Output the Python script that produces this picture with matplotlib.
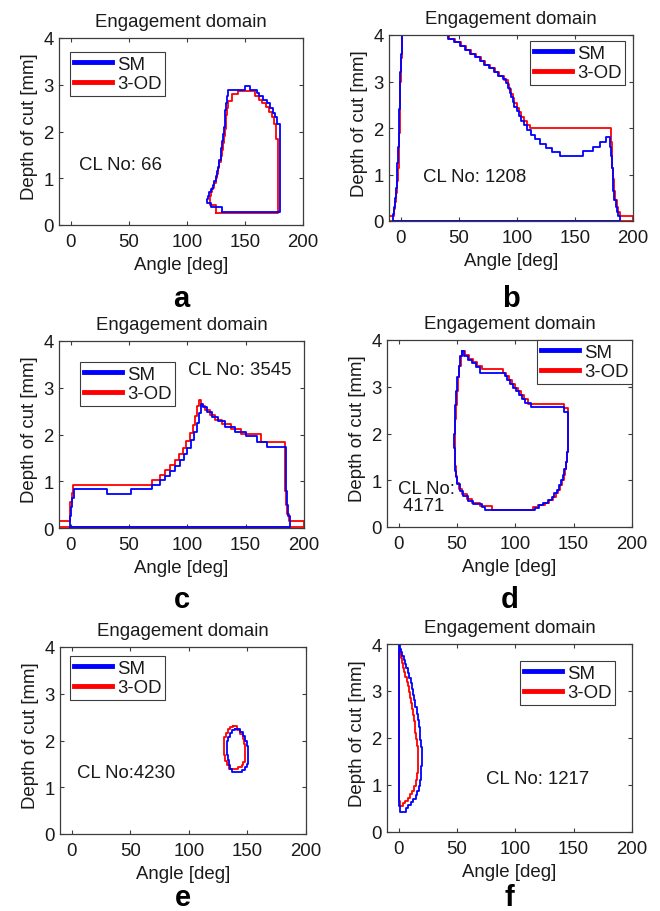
import matplotlib
matplotlib.use("Agg")
import matplotlib.pyplot as plt
from matplotlib.lines import Line2D

plt.rcParams['font.family'] = ['Liberation Sans', 'DejaVu Sans']

FS = 13.4
INK = '#1a1a1a'
FRAME = '#3c3c3c'
SM_BLUE = '#0000ff'
OD_RED = '#ff0000'

series_names = ['SM', '3-OD']
x_ticks = [0, 50, 100, 150, 200]
y_ticks = [0, 1, 2, 3, 4]
panel_tags = ['a', 'b', 'c', 'd', 'e', 'f']
cl_notes = ['CL No: 66', 'CL No: 1208', 'CL No: 3545', 'CL No:\n 4171',
            'CL No:4230', 'CL No: 1217']

# Engagement boundaries as (angle [deg], depth of cut [mm]) step vertices.
# Each vertex holds its depth until the next angle (steps-post).
a_sm = [(130.5, 0.27), (180, 2.15), (178, 2.3), (176, 2.4), (174, 2.5), (172, 2.6),
        (169, 2.68), (166, 2.76), (162, 2.83), (160, 2.89), (154, 2.97), (150, 2.89),
        (135.5, 2.75), (134.5, 2.6), (133.5, 2.45), (133, 2.3), (132.5, 2.1), (132, 1.95),
        (131.3, 1.8), (130.6, 1.65), (129.8, 1.5), (129, 1.38), (128, 1.25), (127, 1.15),
        (126, 1.05), (125, 0.95), (123.7, 0.85), (122.3, 0.77), (120.8, 0.7),
        (119.5, 0.62), (118.3, 0.55), (117.5, 0.47), (121, 0.38), (130.5, 0.27)]
a_od = [(125.5, 0.25), (178.7, 1.85), (177, 2.15), (175, 2.3), (173, 2.42), (171, 2.52),
        (168.5, 2.6), (165, 2.68), (162, 2.75), (159, 2.86), (144, 2.8), (138.5, 2.65),
        (135.5, 2.5), (134.5, 2.35), (134, 2.2), (133.5, 2.05), (132.8, 1.9), (132, 1.75),
        (131, 1.6), (130, 1.47), (129, 1.35), (128, 1.22), (127, 1.1), (126, 1.0),
        (125, 0.9), (123.5, 0.8), (122, 0.7), (121, 0.62), (120, 0.43), (125.5, 0.36),
        (125.5, 0.25)]

b_sm = [(-6.3, 0.0), (188.5, 0.1), (187, 0.2), (186, 0.3), (185, 0.45), (184, 0.65),
        (183.2, 0.9), (182.5, 1.15), (181.8, 1.4), (181, 1.6), (180, 1.8), (177, 1.7),
        (172, 1.6), (166, 1.5), (157, 1.4), (137, 1.48), (130, 1.56), (125, 1.66),
        (120, 1.76), (116, 1.86), (112, 1.96), (109, 2.06), (106, 2.16), (104, 2.26),
        (102, 2.36), (100, 2.46), (98, 2.56), (96.5, 2.66), (95, 2.76), (94, 2.86),
        (92.5, 2.96), (91, 3.06), (88, 3.12), (84, 3.2), (80, 3.28), (76, 3.36),
        (72, 3.44), (68, 3.52), (64, 3.6), (60, 3.68), (55, 3.76), (51, 3.84),
        (46, 3.92), (41, 4.0), (0.8, 3.6), (0.3, 3.2), (-0.2, 2.8), (-0.6, 2.4),
        (-1, 2.0), (-1.5, 1.6), (-2, 1.25), (-2.7, 0.95), (-3.4, 0.7), (-4, 0.5),
        (-4.7, 0.3), (-5.5, 0.15), (-6.3, 0.0)]
b_od = [(-10, 0.0), (-10, 0.1), (-5.5, 0.25), (-4.8, 0.4), (-4, 0.6), (-3.2, 0.85),
        (-2.5, 1.15), (-1.8, 1.5), (-1.2, 1.9), (-0.7, 2.4), (-0.2, 3.0), (0.3, 3.5),
        (0.8, 4.0), (42, 3.92), (47, 3.84), (52, 3.76), (56, 3.68), (61, 3.6),
        (65, 3.52), (69, 3.44), (73, 3.36), (77, 3.28), (81, 3.2), (85, 3.12),
        (89, 3.04), (92, 2.94), (93.5, 2.84), (95, 2.74), (96.5, 2.64), (98, 2.54),
        (100, 2.44), (102, 2.34), (104, 2.24), (106.5, 2.14), (109, 2.06), (111, 2.0),
        (181, 1.7), (181.5, 1.4), (182, 1.15), (182.8, 0.9), (183.8, 0.65),
        (184.8, 0.45), (186, 0.3), (187.5, 0.2), (189, 0.1), (200, 0.0), (-10, 0.0)]

c_sm = [(-0.6, 0.03), (-0.2, 0.25), (0.5, 0.45), (1.3, 0.65), (2.5, 0.84), (31.4, 0.73),
        (51.7, 0.84), (69.4, 0.93), (76.5, 1.02), (81, 1.12), (85, 1.22), (89.5, 1.33),
        (93.5, 1.45), (97, 1.58), (100, 1.72), (103, 1.88), (106, 2.05), (108, 2.25),
        (110, 2.45), (111.5, 2.65), (113.5, 2.58), (117, 2.48), (121, 2.38), (126, 2.28),
        (132, 2.17), (141, 2.06), (150, 1.96), (160, 1.85), (168, 1.74), (184.3, 1.2),
        (184.8, 0.8), (185.5, 0.5), (186.5, 0.25), (188, 0.03), (-0.6, 0.03)]
c_od = [(-10, 0.03), (-10, 0.14), (-1, 0.3), (-0.2, 0.55), (0.8, 0.75), (2.3, 0.93),
        (69.4, 1.03), (76.5, 1.13), (81, 1.24), (85, 1.35), (89, 1.46), (92.5, 1.58),
        (96, 1.72), (99, 1.87), (102, 2.03), (104.5, 2.2), (106.5, 2.4), (108.5, 2.6),
        (110, 2.74), (112, 2.62), (115, 2.52), (119, 2.42), (124, 2.32), (130, 2.22),
        (137, 2.12), (146, 2.02), (163, 1.85), (183.5, 1.2), (184, 0.8), (184.7, 0.5),
        (185.7, 0.3), (187.5, 0.14), (200, 0.03), (-10, 0.03)]

d_sm = [(54, 3.76), (56, 3.66), (59, 3.58), (62.5, 3.5), (66, 3.42), (70, 3.3),
        (91, 3.22), (93, 3.14), (95.5, 3.06), (98, 2.98), (100.5, 2.9), (103, 2.82),
        (105.5, 2.74), (108, 2.66), (113, 2.57), (141.5, 2.47), (145.3, 1.9),
        (145, 1.6), (144.2, 1.4), (143.2, 1.25), (142, 1.12), (140.5, 1.0), (139, 0.9),
        (137.5, 0.8), (135.5, 0.72), (133.5, 0.64), (131, 0.57), (128, 0.51),
        (124, 0.46), (120, 0.41), (116.8, 0.37), (74, 0.43), (71, 0.49), (64, 0.56),
        (59.6, 0.67), (55.3, 0.78), (52.4, 0.92), (50.2, 1.06), (49.2, 1.2),
        (48.5, 1.4), (48, 1.7), (47.8, 2.0), (48, 2.3), (48.5, 2.6), (49.3, 2.9),
        (50.3, 3.2), (51.5, 3.45), (52.8, 3.65), (54, 3.76)]
d_od = [(54.5, 3.76), (57, 3.68), (60, 3.6), (63.5, 3.52), (67, 3.44), (71, 3.38),
        (89.5, 3.3), (92, 3.22), (94.5, 3.14), (97, 3.06), (99.5, 2.98), (102, 2.9),
        (104.5, 2.82), (107, 2.74), (111, 2.64), (142, 2.55), (144.8, 2.0), (145, 1.6),
        (144.5, 1.4), (143.8, 1.25), (142.8, 1.12), (141.5, 1.0), (140, 0.9),
        (138.5, 0.8), (136.5, 0.72), (134.5, 0.64), (132, 0.57), (129, 0.51),
        (125, 0.46), (119, 0.43), (115.5, 0.37), (80, 0.45), (70, 0.52), (63, 0.6),
        (58.5, 0.7), (54.5, 0.82), (51.5, 0.95), (50, 1.1), (49.2, 1.3), (48.6, 1.6),
        (48.3, 2.0), (48.5, 2.3), (49, 2.6), (49.8, 2.9), (50.8, 3.2), (52, 3.45),
        (53.3, 3.65), (54.5, 3.76)]

e_sm = [(139.5, 2.25), (143.7, 2.18), (146, 2.1), (148, 2.0), (149.5, 1.88),
        (150.8, 1.72), (150.8, 1.6), (150.2, 1.5), (149.3, 1.43), (148, 1.37),
        (145.3, 1.32), (136.7, 1.4), (135, 1.48), (134, 1.58), (133, 1.7),
        (132.4, 1.85), (132.8, 1.98), (133.8, 2.08), (135.2, 2.16), (137.2, 2.22),
        (139.5, 2.25)]
e_od = [(137.5, 2.32), (141.5, 2.22), (144, 2.14), (146, 2.04), (147.3, 1.93),
        (148.2, 1.8), (148.2, 1.65), (147.5, 1.55), (146.5, 1.48), (145, 1.44),
        (142, 1.39), (134.5, 1.47), (132.3, 1.57), (131, 1.68), (130, 1.82),
        (129.6, 1.97), (130.2, 2.08), (131.3, 2.17), (133, 2.24), (135, 2.29),
        (137.5, 2.32)]

f_sm = [(0, 3.98), (1, 3.9), (2, 3.82), (3, 3.74), (4.2, 3.66), (5.4, 3.58), (6.6, 3.48),
        (7.8, 3.38), (9, 3.28), (10.2, 3.16), (11.3, 3.04), (12.4, 2.92), (13.4, 2.8),
        (14.4, 2.66), (15.4, 2.52), (16.3, 2.38), (17.1, 2.24), (17.9, 2.1),
        (18.5, 1.95), (19.1, 1.8), (19.6, 1.6), (19.8, 1.4), (19.5, 1.25), (19, 1.1),
        (18.2, 0.98), (17.3, 0.88), (16, 0.78), (14.5, 0.7), (12.5, 0.63),
        (10.5, 0.57), (8.3, 0.52), (6.2, 0.43), (1.1, 0.55), (0.2, 3.9), (0, 3.98)]
f_od = [(0.5, 3.86), (1.2, 3.78), (2, 3.7), (2.9, 3.6), (3.8, 3.5), (4.8, 3.4),
        (5.8, 3.3), (6.8, 3.2), (7.7, 3.1), (8.6, 2.98), (9.5, 2.86), (10.4, 2.74),
        (11.3, 2.62), (12.1, 2.5), (12.9, 2.37), (13.7, 2.24), (14.4, 2.1),
        (15.1, 1.97), (15.8, 1.82), (16.3, 1.65), (16.5, 1.45), (16.2, 1.25),
        (15.6, 1.1), (14.6, 0.98), (13.3, 0.88), (11.6, 0.8), (9.8, 0.73), (7.8, 0.67),
        (5.6, 0.62), (3.3, 0.56), (0.9, 0.65), (0.6, 3.8), (0.5, 3.86)]

W, H = 660, 912
fig = plt.figure(figsize=(W / 100, H / 100), dpi=100)


def px_rect(left, top, right, bottom):
    return [left / W, 1 - bottom / H, (right - left) / W, (bottom - top) / H]


def split(points):
    return [p[0] for p in points], [p[1] for p in points]


layout = [
    # axes box (px), note position (data), legend loc, legend anchor (px), tag bottom (px)
    dict(box=(59, 39, 303, 226), note=(7.2, 1.3), leg=('upper left', (70, 53)), tag_y=313),
    dict(box=(389, 36, 633, 222), note=(19, 0.95), leg=('upper right', (625, 42)), tag_y=313),
    dict(box=(59, 342, 304, 529), note=(100.5, 3.39), leg=('upper left', (80, 363)), tag_y=614),
    dict(box=(387, 341, 632, 528), note=(-0.3, 0.64), leg=('upper right', (632, 341)), tag_y=614),
    dict(box=(60, 648, 306, 835), note=(4.3, 1.32), leg=('upper left', (70, 657)), tag_y=912),
    dict(box=(387, 645, 632, 833), note=(74.8, 1.13), leg=('upper left', (520, 662)), tag_y=912),
]
curves = [(a_sm, a_od), (b_sm, b_od), (c_sm, c_od), (d_sm, d_od), (e_sm, e_od), (f_sm, f_od)]

for spec, (sm, od), note, tag in zip(layout, curves, cl_notes, panel_tags):
    ax = fig.add_axes(px_rect(*spec['box']))
    ox, oy = split(od)
    sx, sy = split(sm)
    ax.plot(ox, oy, drawstyle='steps-post', color=OD_RED, lw=1.3)
    ax.plot(sx, sy, drawstyle='steps-post', color=SM_BLUE, lw=1.3)

    ax.set_xlim(-10, 200)
    ax.set_ylim(0, 4)
    ax.set_xticks(x_ticks)
    ax.set_yticks(y_ticks)
    ax.tick_params(direction='in', top=True, right=True, length=3, width=0.8,
                   color=FRAME, labelcolor=INK, labelsize=FS, pad=4)
    ax.tick_params(axis='x', pad=6)
    for sp in ax.spines.values():
        sp.set_color(FRAME)
        sp.set_linewidth(0.9)

    ax.set_title('Engagement domain', fontsize=FS, color=INK, pad=8.4)
    ax.set_xlabel('Angle [deg]', fontsize=FS, color=INK)
    ax.set_ylabel('Depth of cut [mm]', fontsize=FS, color=INK)
    ax.xaxis.set_label_coords(0.5, -0.165)
    ax.yaxis.set_label_coords(-0.086, 0.53)

    handles = [Line2D([], [], color=SM_BLUE, lw=3.5), Line2D([], [], color=OD_RED, lw=3.5)]
    loc, (lx, ly) = spec['leg']
    leg = ax.legend(handles, series_names, loc=loc, bbox_to_anchor=(lx / W, 1 - ly / H),
                    bbox_transform=fig.transFigure, fontsize=FS, frameon=True,
                    fancybox=False, framealpha=1, edgecolor=FRAME, borderpad=0.2,
                    handlelength=2.05, handletextpad=0.27, labelspacing=0.13,
                    borderaxespad=0)
    leg.get_frame().set_linewidth(0.8)
    for t in leg.get_texts():
        t.set_color(INK)

    ax.text(spec['note'][0], spec['note'][1], note, fontsize=FS, color=INK,
            ha='left', va='center', linespacing=1.05)

    l, t_, r, b = spec['box']
    fig.text((l + r) / 2 / W, 1 - spec['tag_y'] / H, tag, fontsize=21, fontweight='bold',
             color='black', ha='center', va='bottom')

fig.savefig('out.png', dpi=100)
